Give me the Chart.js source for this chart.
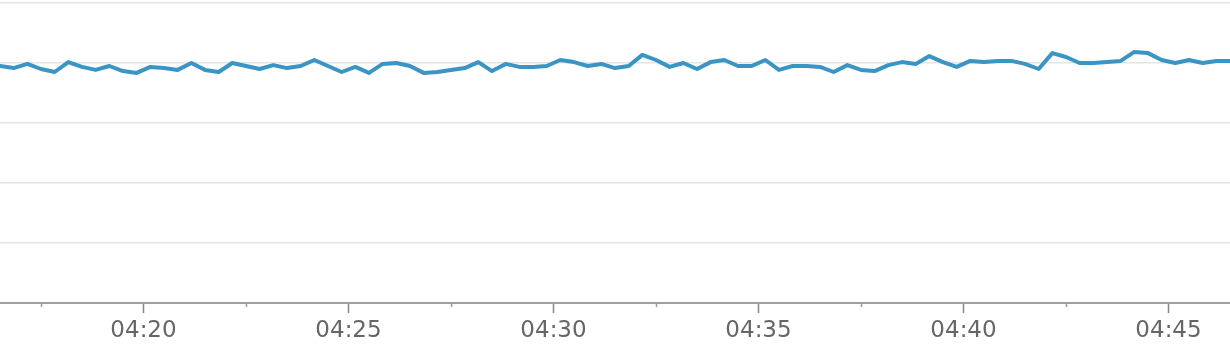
<!DOCTYPE html>
<html>
<head>
<meta charset="utf-8">
<script src="https://cdn.jsdelivr.net/npm/chart.js@4/dist/chart.umd.min.js"></script>
<style>
  html, body { margin: 0; padding: 0; background: #ffffff; }
  #wrap { width: 1230px; height: 346px; position: relative; }
</style>
</head>
<body>
<div id="wrap"><canvas id="c"></canvas></div>
<script>
// Sample times (hh:mm:ss)
const times = [
  "04:16:30","04:16:50","04:17:10","04:17:30","04:17:50","04:18:10","04:18:30","04:18:50",
  "04:19:10","04:19:30","04:19:50","04:20:10","04:20:30","04:20:50","04:21:10","04:21:30",
  "04:21:50","04:22:10","04:22:30","04:22:50","04:23:10","04:23:30","04:23:50","04:24:10",
  "04:24:30","04:24:50","04:25:10","04:25:30","04:25:50","04:26:10","04:26:30","04:26:50",
  "04:27:10","04:27:30","04:27:50","04:28:10","04:28:30","04:28:50","04:29:10","04:29:30",
  "04:29:50","04:30:10","04:30:30","04:30:50","04:31:10","04:31:30","04:31:50","04:32:10",
  "04:32:30","04:32:50","04:33:10","04:33:30","04:33:50","04:34:10","04:34:30","04:34:50",
  "04:35:10","04:35:30","04:35:50","04:36:10","04:36:30","04:36:50","04:37:10","04:37:30",
  "04:37:50","04:38:10","04:38:30","04:38:50","04:39:10","04:39:30","04:39:50","04:40:10",
  "04:40:30","04:40:50","04:41:10","04:41:30","04:41:50","04:42:10","04:42:30","04:42:50",
  "04:43:10","04:43:30","04:43:50","04:44:10","04:44:30","04:44:50","04:45:10","04:45:30",
  "04:45:50","04:46:10","04:46:30"
];
// Series values (arbitrary units; y axis labels not shown in reference)
const values = [
  79.0,78.3,79.7,78.0,77.0,80.3,78.7,77.7,79.0,77.3,76.7,78.7,78.3,77.7,80.0,77.7,
  77.0,80.0,79.0,78.0,79.3,78.3,79.0,81.0,79.0,77.0,78.7,76.7,79.7,80.0,79.0,76.7,
  77.0,77.7,78.3,80.3,77.3,79.7,78.7,78.7,79.0,81.0,80.3,79.0,79.7,78.3,79.0,82.7,
  81.0,78.7,80.0,78.0,80.3,81.0,79.0,79.0,81.0,77.7,79.0,79.0,78.7,77.0,79.3,77.7,
  77.3,79.3,80.3,79.7,82.3,80.3,78.7,80.7,80.3,80.7,80.7,79.7,78.0,83.3,82.0,80.0,
  80.0,80.3,80.7,83.7,83.3,81.0,80.0,81.0,80.0,80.7,80.7
];
// Axis settings
const xMin = "04:16:30", xMax = "04:46:30";
const majorTicks = ["04:20","04:25","04:30","04:35","04:40","04:45"];
const minorTicks = ["04:17:30","04:22:30","04:27:30","04:32:30","04:37:30","04:42:30"];
const yMin = 0, yMax = 100, yStep = 20;

function toMin(s) {
  const p = s.split(":").map(Number);
  return p[0] * 60 + p[1] + (p[2] || 0) / 60;
}
function fmt(m) {
  const h = Math.floor(m / 60), mm = Math.round(m - h * 60);
  return String(h).padStart(2, "0") + ":" + String(mm).padStart(2, "0");
}
const majorSet = majorTicks.map(toMin);
const minorSet = minorTicks.map(toMin);
const points = times.map((t, i) => ({ x: toMin(t), y: values[i] }));

const minorTickPlugin = {
  id: "minorTicks",
  afterDraw(chart) {
    const xs = chart.scales.x, ctx = chart.ctx;
    const y0 = chart.chartArea.bottom;
    ctx.save();
    ctx.strokeStyle = "#999999";
    ctx.lineWidth = 1.5;
    minorSet.forEach(v => {
      const px = Math.round(xs.getPixelForValue(v)) + 0.5;
      ctx.beginPath();
      ctx.moveTo(px, y0);
      ctx.lineTo(px, y0 + 4);
      ctx.stroke();
    });
    ctx.restore();
  }
};

new Chart(document.getElementById("c"), {
  type: "line",
  data: {
    datasets: [{
      data: points,
      borderColor: "#3a94c4",
      borderWidth: 4,
      pointRadius: 0,
      tension: 0,
      borderJoinStyle: "round",
      borderCapStyle: "round",
      fill: false,
      clip: false
    }]
  },
  options: {
    responsive: true,
    maintainAspectRatio: false,
    animation: false,
    layout: { padding: { top: 3, left: 0, right: 0, bottom: 0 } },
    plugins: { legend: { display: false }, tooltip: { enabled: false } },
    scales: {
      x: {
        type: "linear",
        min: toMin(xMin),
        max: toMin(xMax),
        afterBuildTicks(scale) {
          scale.ticks = majorSet.map(v => ({ value: v }));
        },
        afterFit(scale) { scale.height = 43; },
        grid: {
          drawOnChartArea: false,
          drawTicks: true,
          tickLength: 10,
          tickColor: "#888888",
          tickWidth: 1.5
        },
        border: { display: true, color: "#a0a0a0", width: 2 },
        ticks: {
          autoSkip: false,
          maxRotation: 0,
          padding: 4,
          color: "#666666",
          font: { family: "DejaVu Sans", size: 23 },
          callback: v => fmt(v)
        }
      },
      y: {
        min: yMin,
        max: yMax,
        ticks: { display: false, stepSize: yStep },
        grid: { color: "#e4e4e4", lineWidth: 1.5, drawTicks: false },
        border: { display: false }
      }
    }
  },
  plugins: [minorTickPlugin]
});
</script>
</body>
</html>
